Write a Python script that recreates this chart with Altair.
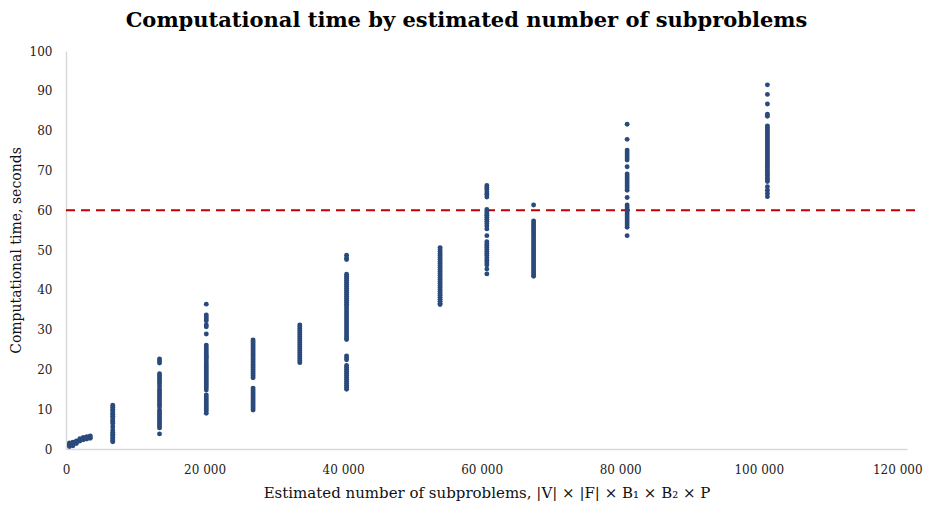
import altair as alt
import pandas as pd

# Estimated number of subproblems (x) for each group of runs
x_small = [500, 1000, 1500, 2000, 2500, 3000, 3500]
y_small = [
    [0.6, 0.9, 1.2, 1.5],
    [0.8, 1.1, 1.4, 1.7],
    [1.4, 1.7, 2.0],
    [2.0, 2.3, 2.6],
    [2.3, 2.6, 2.9],
    [2.5, 2.8, 3.1],
    [2.7, 3.0, 3.3],
]

x_groups = [6750, 13500, 20250, 27000, 33750, 40500, 54000, 60750, 67500, 81000, 101250]
y_groups = [
    [11.0, 10.5, 10.0, 9.6, 9.1, 8.7, 8.2, 7.8, 7.3, 6.9, 6.4, 5.6, 4.8, 4.2, 3.7, 3.3, 2.9, 2.5, 2.1, 1.8],
    [22.6, 22.1, 21.6, 18.9, 18.4, 17.9, 17.4, 16.9, 16.4, 15.8, 15.1, 14.6, 14.1, 13.6, 13.1, 12.6,
     12.1, 11.6, 11.1, 10.6, 9.8, 9.3, 8.8, 8.3, 7.8, 7.3, 6.8, 6.3, 5.8, 5.3, 3.8],
    [36.4, 33.7, 33.2, 32.7, 32.2, 31.2, 30.7, 28.9, 26.1, 25.6, 25.1, 24.6, 24.1, 23.6, 23.2, 22.9,
     22.4, 21.9, 21.4, 20.9, 20.4, 19.9, 19.4, 18.9, 18.4, 17.9, 17.4, 16.9, 16.4, 15.9, 15.4, 14.8,
     13.6, 13.1, 12.6, 12.1, 11.6, 11.1, 10.6, 10.1, 9.6, 9.0],
    [27.4, 26.9, 26.4, 25.9, 25.4, 24.9, 24.4, 23.9, 23.4, 22.9, 22.4, 21.9, 21.4, 20.9, 20.4, 19.9,
     19.4, 18.9, 18.4, 17.9, 15.3, 14.8, 14.3, 13.8, 13.3, 12.8, 12.3, 11.8, 11.3, 10.8, 10.3, 9.8],
    [31.2, 30.7, 30.2, 29.7, 29.2, 28.7, 28.2, 27.7, 27.2, 26.7, 26.2, 25.7, 25.2, 24.7, 24.2, 23.7,
     23.2, 22.7, 22.2, 21.7],
    [48.7, 48.0, 47.6, 43.9, 43.4, 42.9, 42.4, 41.9, 41.4, 40.9, 40.4, 39.9, 39.4, 38.9, 38.4, 37.9,
     37.4, 36.9, 36.4, 35.9, 35.4, 34.9, 34.4, 33.9, 33.4, 32.9, 32.4, 31.9, 31.4, 30.9, 30.4, 29.9,
     29.4, 28.9, 28.4, 27.9, 27.5, 23.4, 22.9, 22.4, 21.0, 20.5, 20.0, 19.5, 19.0, 18.5, 18.0, 17.5,
     17.0, 16.5, 16.0, 15.5, 15.0],
    [50.6, 50.1, 49.6, 49.1, 48.6, 48.1, 47.6, 47.1, 46.6, 46.1, 45.6, 45.1, 44.6, 44.1, 43.6, 43.1,
     42.6, 42.1, 41.6, 41.1, 40.6, 40.1, 39.6, 39.1, 38.6, 38.1, 37.6, 37.1, 36.6, 36.3],
    [66.2, 65.7, 65.2, 64.6, 64.0, 63.3, 60.2, 59.7, 59.2, 58.7, 58.2, 57.7, 57.2, 56.6, 56.0, 55.3,
     53.6, 52.1, 51.6, 51.1, 50.6, 50.1, 49.6, 49.1, 48.6, 48.0, 47.4, 46.8, 46.2, 45.2, 44.0],
    [61.3, 57.3, 56.8, 56.3, 55.8, 55.3, 54.8, 54.3, 53.8, 53.3, 52.8, 52.3, 51.8, 51.3, 50.8, 50.3,
     49.8, 49.3, 48.8, 48.3, 47.8, 47.3, 46.8, 46.3, 45.8, 45.3, 44.8, 44.3, 43.8, 43.4],
    [81.6, 77.8, 75.1, 74.6, 74.1, 73.6, 73.1, 72.6, 70.9, 69.1, 68.6, 68.1, 67.6, 67.1, 66.6, 66.1,
     65.6, 65.0, 63.2, 61.3, 60.8, 60.3, 59.8, 59.3, 58.8, 58.3, 57.8, 57.3, 56.8, 56.3, 55.7, 53.6],
    [91.5, 89.1, 86.7, 84.1, 83.6, 81.2, 80.7, 80.2, 79.7, 79.2, 78.7, 78.2, 77.7, 77.2, 76.7, 76.2,
     75.7, 75.2, 74.7, 74.2, 73.7, 73.2, 72.7, 72.2, 71.7, 71.2, 70.7, 70.2, 69.7, 69.2, 68.7, 68.2,
     67.7, 67.2, 65.9, 65.0, 64.2, 63.4],
]

x_ticks = [0, 20000, 40000, 60000, 80000, 100000, 120000]
y_ticks = [0, 10, 20, 30, 40, 50, 60, 70, 80, 90, 100]
limit_seconds = 60
limit_start = 0
limit_end = 122900
x_domain_max = 121400

rows = []
for xv, ys in zip(x_small + x_groups, y_small + y_groups):
    for yv in ys:
        rows.append({"n": xv, "t": yv})
df = pd.DataFrame(rows)

FONT = "DejaVu Serif"

x_enc = alt.X(
    "n:Q",
    scale=alt.Scale(domain=[0, x_domain_max], nice=False, zero=True),
    axis=alt.Axis(
        values=x_ticks,
        labelExpr="replace(format(datum.value, ','), ',', ' ')",
        title="Estimated number of subproblems, |V| × |F| × B₁ × B₂ × P",
        titleFontSize=15,
        grid=False,
        ticks=False,
        labelPadding=15,
        titlePadding=10,
        labelFlush=False,
        labelOverlap=False,
        domainColor="#d9d9d9",
        domainWidth=1.5,
    ),
)
y_enc = alt.Y(
    "t:Q",
    scale=alt.Scale(domain=[0, 100], nice=False),
    axis=alt.Axis(
        values=y_ticks,
        title="Computational time, seconds",
        titleFontSize=14,
        grid=False,
        ticks=False,
        labelPadding=14,
        titlePadding=6,
        labelFlush=False,
        labelOverlap=False,
        domainColor="#d9d9d9",
        domainWidth=1.5,
    ),
)

points = alt.Chart(df).mark_circle(size=24, color="#2a4a7c", opacity=1).encode(x=x_enc, y=y_enc)

limit_df = pd.DataFrame({"n": [limit_start], "n2": [limit_end], "t": [limit_seconds]})
rule = alt.Chart(limit_df).mark_rule(
    color="#c00000", strokeWidth=2, strokeDash=[9, 6], clip=False
).encode(x=x_enc, x2="n2:Q", y=y_enc)

chart = (
    alt.layer(rule, points)
    .properties(
        width=841,
        height=398,
        title=alt.TitleParams(
            "Computational time by estimated number of subproblems",
            font=FONT,
            fontSize=21,
            fontWeight="bold",
            color="#000000",
            anchor="middle",
            dx=-20,
            offset=14,
        ),
        autosize=alt.AutoSizeParams(type="none"),
        padding={"left": 58, "top": 43, "right": 20, "bottom": 52},
    )
    .configure_axis(
        labelFont=FONT,
        labelFontSize=12,
        labelColor="#222222",
        titleFont=FONT,
        titleFontWeight="normal",
        titleColor="#111111",
    )
    .configure_view(stroke=None)
)

chart.save("out.html", embed_options={"renderer": "svg", "actions": False})
